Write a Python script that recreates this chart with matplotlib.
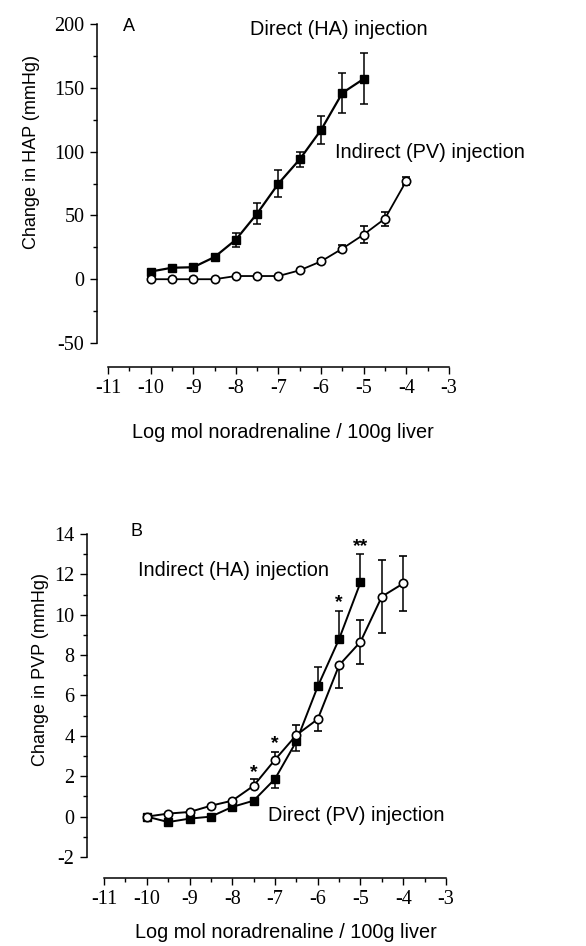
import numpy as np
from matplotlib import pyplot as plt
from matplotlib.ticker import MultipleLocator

plt.rcParams['axes.unicode_minus'] = False

# panel A: change in hepatic arterial pressure
xa_ha = [-10, -9.5, -9, -8.5, -8, -7.5, -7, -6.5, -6, -5.5, -5]
ya_ha = [6, 9, 9.4, 17.4, 31, 51.5, 75, 94, 117, 146, 157]
ea_ha = [1, 1, 1, 2, 5.5, 8.5, 10.5, 6, 11, 16, 20]

xa_pv = [-10, -9.5, -9, -8.5, -8, -7.5, -7, -6.5, -6, -5.5, -5, -4.5, -4]
ya_pv = [0, 0, 0, 0, 2.5, 2.5, 2.5, 7, 14, 24, 35, 47.5, 77]
ea_pv = [0, 0, 0, 0, 0, 0, 0, 1, 2, 3, 6.5, 5.5, 3.5]

# panel B: change in portal venous pressure
xb_ha = [-10, -9.5, -9, -8.5, -8, -7.5, -7, -6.5, -6, -5.5, -5]
yb_ha = [0, -0.27, -0.1, 0, 0.48, 0.79, 1.87, 3.73, 6.45, 8.8, 11.6]
eb_ha_lo = [0, 0, 0, 0, 0, 0, 0.45, 0.5, 0, 0, 0]
eb_ha_hi = [0, 0, 0, 0, 0, 0, 0, 0, 0.95, 1.4, 1.4]

xb_pv = [-10, -9.5, -9, -8.5, -8, -7.5, -7, -6.5, -6, -5.5, -5, -4.5, -4]
yb_pv = [0, 0.15, 0.23, 0.54, 0.79, 1.53, 2.82, 4.04, 4.83, 7.5, 8.66, 10.9, 11.55]
eb_pv_lo = [0, 0, 0, 0, 0, 0, 0, 0, 0.6, 1.15, 1.1, 1.8, 1.35]
eb_pv_hi = [0, 0, 0, 0, 0, 0.35, 0.4, 0.5, 0, 0, 1.1, 1.8, 1.35]

stars_x = [-7.5, -7, -5.5, -5]
stars_y = [2.2, 3.6, 10.6, 13.4]
stars_txt = ['*', '*', '*', '**']

xticks = [-11, -10, -9, -8, -7, -6, -5, -4, -3]

sans = 'Liberation Sans'
serif = 'Liberation Serif'
fs_txt = 14.3

fig = plt.figure(figsize=(5.86, 9.46), dpi=100)
axA = fig.add_axes([0.1655, 0.6374, 0.6005, 0.3372])
axB = fig.add_axes([0.1485, 0.0941, 0.6125, 0.3414])


def style(ax, xmin, ylo, yhi, ymaj, ymin, off, xpad):
    ax.set_xlim(xmin, -3)
    ax.set_ylim(ylo, yhi)
    ax.spines['top'].set_visible(False)
    ax.spines['right'].set_visible(False)
    ax.spines['bottom'].set_position(('outward', off))
    ax.spines['bottom'].set_bounds(-11, -3)
    ax.spines['left'].set_linewidth(1.1)
    ax.spines['bottom'].set_linewidth(1.1)
    ax.set_xticks(xticks)
    ax.set_xticklabels([str(v) for v in xticks], family=serif, fontsize=14.5)
    ax.xaxis.set_minor_locator(MultipleLocator(0.5))
    ax.yaxis.set_major_locator(MultipleLocator(ymaj))
    ax.yaxis.set_minor_locator(MultipleLocator(ymin))
    for lab in ax.get_yticklabels():
        lab.set_family(serif)
        lab.set_fontsize(14.5)
    ax.tick_params(which='major', length=5, width=1, pad=4)
    ax.tick_params(which='minor', length=3, width=1)
    ax.set_xlabel('Log mol noradrenaline / 100g liver', family=sans,
                  fontsize=fs_txt, labelpad=xpad)


# panel A
axA.errorbar(xa_ha, ya_ha, yerr=ea_ha, color='black', marker='s', ms=6,
             mfc='black', lw=1.6, elinewidth=1.1, capsize=3, capthick=1.1)
axA.errorbar(xa_pv, ya_pv, yerr=ea_pv, color='black', marker='o', ms=6,
             mfc='white', mew=1.2, lw=1.3, elinewidth=1.1, capsize=3,
             capthick=1.1)
style(axA, -11.26, -50, 200, 50, 25, 17, 18)
axA.xaxis.label.set_x(0.528)
axA.set_ylabel('Change in HAP (mmHg)', family=sans, fontsize=13, labelpad=10)
axA.yaxis.label.set_y(0.599)
axA.text(-10.65, 198, 'A', family=sans, fontsize=13, va='center')
axA.text(-7.67, 196, 'Direct (HA) injection', family=sans, fontsize=fs_txt,
         va='center')
axA.text(-5.67, 99, 'Indirect (PV) injection', family=sans, fontsize=fs_txt,
         va='center')

# panel B
axB.errorbar(xb_ha, yb_ha, yerr=[eb_ha_lo, eb_ha_hi], color='black',
             marker='s', ms=6, mfc='black', lw=1.4, elinewidth=1.1,
             capsize=3, capthick=1.1)
axB.errorbar(xb_pv, yb_pv, yerr=[eb_pv_lo, eb_pv_hi], color='black',
             marker='o', ms=6, mfc='white', mew=1.2, lw=1.4,
             elinewidth=1.1, capsize=3, capthick=1.1)
style(axB, -11.4, -2, 14, 2, 1, 15, 10)
axB.xaxis.label.set_x(0.554)
axB.set_ylabel('Change in PVP (mmHg)', family=sans, fontsize=13, labelpad=4)
axB.yaxis.label.set_y(0.579)
axB.text(-10.39, 14.1, 'B', family=sans, fontsize=13, va='center')
axB.text(-10.2, 12.2, 'Indirect (HA) injection', family=sans, fontsize=fs_txt,
         va='center')
axB.text(-7.16, 0.05, 'Direct (PV) injection', family=sans, fontsize=fs_txt,
         va='center')
for sx, sy, st in zip(stars_x, stars_y, stars_txt):
    axB.text(sx, sy, st, family=sans, fontsize=14, fontweight='bold',
             ha='center', va='center')

fig.savefig('out.png', dpi=100)
